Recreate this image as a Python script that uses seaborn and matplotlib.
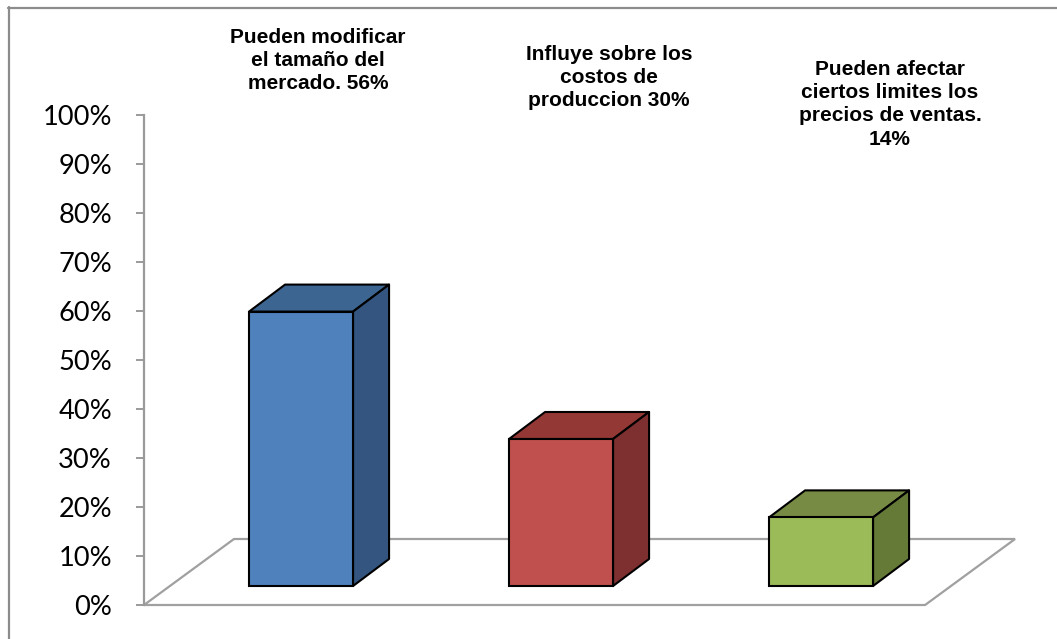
import matplotlib
matplotlib.use("Agg")
import matplotlib.pyplot as plt
from matplotlib.patches import Polygon
from matplotlib.lines import Line2D
import seaborn as sns
import pandas as pd

# --- data -------------------------------------------------------------
categories = [
    "Pueden modificar\nel tamaño del\nmercado.",
    "Influye sobre los\ncostos de\nproduccion",
    "Pueden afectar\nciertos limites los\nprecios de ventas.",
]
values = [56, 30, 14]
value_sep = [" ", " ", "\n"]
y_ticks = [0, 10, 20, 30, 40, 50, 60, 70, 80, 90, 100]

# --- colours (front, top, side) ----------------------------------------
front_colors = ["#4F81BD", "#C0504D", "#9BBB59"]
top_colors = ["#3D6591", "#943836", "#778B44"]
side_colors = ["#33557F", "#7D302F", "#667A38"]

# --- layout ------------------------------------------------------------
W, H, DPI = 1057, 639, 100
AX_LEFT, AX_RIGHT, AX_TOP, AX_BOTTOM = 144, 1014, 115, 605   # pixels
XLIM = (-0.604, 2.742)
BAR_LIFT = 3.88          # bars stand on the floor, slightly behind its front edge
BAR_DX, BAR_DY = 0.1385, 5.51     # bar depth (x in category units, y in %)
FLOOR_DX, FLOOR_DY = 0.346, 13.47 # floor depth
FLOOR_FRONT_W = 3.004
LABEL_X = [318, 609, 890]         # pixels
LABEL_TOP = [28, 45, 60]

sns.set_theme(style="white")
plt.rcParams["font.family"] = ["Liberation Sans", "DejaVu Sans"]

fig = plt.figure(figsize=(W / DPI, H / DPI), dpi=DPI)
fig.patch.set_facecolor("white")
rect = [AX_LEFT / W, 1 - AX_BOTTOM / H, (AX_RIGHT - AX_LEFT) / W, (AX_BOTTOM - AX_TOP) / H]

# outer chart border
border_col = "#8C8C8C"
fig.add_artist(Line2D([8.5 / W, 8.5 / W], [1 - 7 / H, 0], transform=fig.transFigure,
                      color=border_col, lw=1.6))
fig.add_artist(Line2D([8 / W, 1], [1 - 7.5 / H, 1 - 7.5 / H], transform=fig.transFigure,
                      color=border_col, lw=1.6))

# value axis + floor
ax = fig.add_axes(rect)
ax.set_xlim(*XLIM)
ax.set_ylim(0, 100)
ax.set_facecolor("none")
for s in ["top", "right", "bottom"]:
    ax.spines[s].set_visible(False)
axis_col = "#9A9A9A"
ax.spines["left"].set_color(axis_col)
ax.spines["left"].set_linewidth(1.6)
ax.set_yticks(y_ticks)
ax.set_yticklabels([f"{t}%" for t in y_ticks], fontfamily="Lato", fontsize=19.6, color="black")
ax.tick_params(axis="y", direction="out", length=6, width=1.4, color=axis_col, pad=17, left=True)
ax.set_xticks([])
ax.grid(False)

x0 = XLIM[0]
floor = Polygon([(x0, 0), (x0 + FLOOR_FRONT_W, 0),
                 (x0 + FLOOR_FRONT_W + FLOOR_DX, FLOOR_DY), (x0 + FLOOR_DX, FLOOR_DY)],
                closed=True, facecolor="none", edgecolor="#A0A0A0", lw=1.6, clip_on=False)
ax.add_patch(floor)

# bars
bax = fig.add_axes(rect)
bax.set_facecolor("none")
df = pd.DataFrame({"cat": categories, "val": values})
sns.barplot(data=df, x="cat", y="val", hue="cat", palette=front_colors, legend=False,
            width=0.4, edgecolor="black", linewidth=1.5, saturation=1, ax=bax, zorder=3)
bax.set_xlim(*XLIM)
bax.set_ylim(-BAR_LIFT, 100 - BAR_LIFT)
bax.axis("off")

for i, p in enumerate(bax.patches):
    x, y, w, h = p.get_x(), p.get_y(), p.get_width(), p.get_height()
    top = Polygon([(x, y + h), (x + w, y + h), (x + w + BAR_DX, y + h + BAR_DY),
                   (x + BAR_DX, y + h + BAR_DY)], closed=True, facecolor=top_colors[i],
                  edgecolor="black", lw=1.5, joinstyle="round", zorder=2)
    side = Polygon([(x + w, y), (x + w + BAR_DX, y + BAR_DY), (x + w + BAR_DX, y + h + BAR_DY),
                    (x + w, y + h)], closed=True, facecolor=side_colors[i],
                   edgecolor="black", lw=1.5, joinstyle="round", zorder=2)
    bax.add_patch(top)
    bax.add_patch(side)
    p.set_zorder(4)

# data labels
for i, (c, v) in enumerate(zip(categories, values)):
    fig.text(LABEL_X[i] / W, 1 - LABEL_TOP[i] / H, f"{c}{value_sep[i]}{v}%",
             ha="center", va="top", multialignment="center", fontsize=15,
             fontweight="bold", color="black", linespacing=1.28)

fig.savefig("out.png", dpi=DPI)
